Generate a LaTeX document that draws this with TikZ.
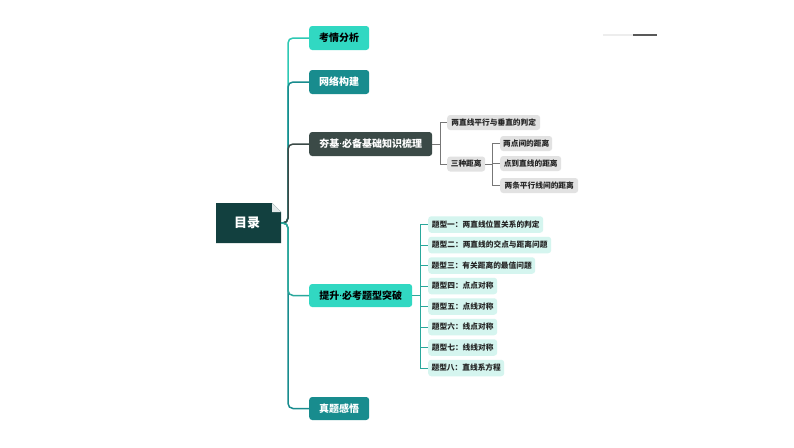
\documentclass[tikz,border=0pt]{standalone}
\usepackage{fontspec}
\newfontfamily\cjk{Noto Sans CJK SC}
\newfontfamily\latn{Noto Sans}
\newcommand{\mdot}{{\latn\bfseries\textperiodcentered}}
\usetikzlibrary{positioning}
\definecolor{turq}{HTML}{31D8C2}
\definecolor{tealc}{HTML}{188C8E}
\definecolor{darkc}{HTML}{3B4A47}
\definecolor{rootc}{HTML}{12403F}
\definecolor{grayleaf}{HTML}{E2E2E2}
\definecolor{cyanleaf}{HTML}{D5F5EF}
\definecolor{turqline}{HTML}{2EC9B4}
\definecolor{cyanline}{HTML}{2AA89C}
\definecolor{grayline}{HTML}{777777}
\tikzset{
  lvone/.style={rounded corners=3pt, anchor=west, minimum height=24pt, inner sep=0pt, font=\cjk\bfseries\fontsize{10}{12}\selectfont},
  lvturq/.style={lvone, fill=turq, text=black},
  lvteal/.style={lvone, fill=tealc, text=white},
  lvdark/.style={lvone, fill=darkc, text=white},
  leafbase/.style={rounded corners=3pt, anchor=west, inner sep=0pt, font=\cjk\bfseries\fontsize{7.7}{9}\selectfont, text=black!85},
  grayleafbox/.style={leafbase, fill=grayleaf, minimum height=15pt},
  cyanleafbox/.style={leafbase, fill=cyanleaf, minimum height=16.5pt},
  branch/.style={line width=1.5pt, rounded corners=5pt},
  subbranch/.style={line width=1pt},
}
\begin{document}
\begin{tikzpicture}[x=1pt,y=-1pt]
\useasboundingbox[fill=white] (0,0) rectangle (794,447);
% decoration top right
\draw[line width=2pt, black!7] (603,35) -- (633,35);
\draw[line width=2pt, black!65] (633,35) -- (657,35);

% root
\fill[rootc] (216,203) -- (272,203) -- (281,212) -- (281,243) -- (216,243) -- cycle;
\fill[white!88!rootc] (272,203) -- (272,212) -- (281,212) -- cycle;
\node[font=\cjk\bfseries\fontsize{13}{15}\selectfont, text=white, inner sep=0pt] (root) at (247,223) {目录};
\coordinate (rootE) at (281,223);

% level one nodes
\node[lvturq, minimum width=60pt] (n1) at (309,38) {考情分析};
\node[lvteal, minimum width=60pt] (n2) at (309,82) {网络构建};
\node[lvdark, minimum width=123pt] (n3) at (309,144) {夯基\mdot 必备基础知识梳理};
\node[lvturq, minimum width=103pt, minimum height=23pt] (n4) at (309,295.5) {提升\mdot 必考题型突破};
\node[lvteal, minimum width=60pt, minimum height=23pt] (n5) at (309,408.5) {真题感悟};

% trunk branches
\draw[branch, turqline] (rootE) -- ++(7,0) |- (n1.west);
\draw[branch, tealc] (rootE) -- ++(7,0) |- (n2.west);
\draw[branch, darkc] (rootE) -- ++(7,0) |- (n3.west);
\draw[branch, tealc] (rootE) -- ++(7,0) |- (n5.west);
\draw[branch, cyanline] (rootE) -- ++(7,0) |- (n4.west);

% 夯基 children
\node[grayleafbox, minimum width=93pt] (g1) at (447,122.5) {两直线平行与垂直的判定};
\node[grayleafbox, minimum width=38pt] (g2) at (447,164) {三种距离};
\node[grayleafbox, minimum width=52pt] (g3) at (500,143.5) {两点间的距离};
\node[grayleafbox, minimum width=61pt] (g4) at (500,163.5) {点到直线的距离};
\node[grayleafbox, minimum width=78pt] (g5) at (500,185.5) {两条平行线间的距离};

\draw[subbranch, grayline] (n3.east) -- ++(8,0) coordinate (b1);
\draw[subbranch, grayline] (b1) |- (g1.west);
\draw[subbranch, grayline] (b1) |- (g2.west);
\draw[subbranch, grayline] (g2.east) -- ++(7,0) coordinate (b2);
\draw[subbranch, grayline] (b2) |- (g3.west);
\draw[subbranch, grayline] (b2) |- (g4.west);
\draw[subbranch, grayline] (b2) |- (g5.west);

% 提升 children
\node[cyanleafbox, minimum width=115pt] (c1) at (428,224.5) {题型一：两直线位置关系的判定};
\node[cyanleafbox, minimum width=123pt] (c2) at (428,245) {题型二：两直线的交点与距离问题};
\node[cyanleafbox, minimum width=107pt] (c3) at (428,265.5) {题型三：有关距离的最值问题};
\node[cyanleafbox, minimum width=69pt] (c4) at (428,286) {题型四：点点对称};
\node[cyanleafbox, minimum width=69pt] (c5) at (428,306.5) {题型五：点线对称};
\node[cyanleafbox, minimum width=69pt] (c6) at (428,327) {题型六：线点对称};
\node[cyanleafbox, minimum width=69pt] (c7) at (428,347.5) {题型七：线线对称};
\node[cyanleafbox, minimum width=76pt] (c8) at (428,368) {题型八：直线系方程};

\draw[subbranch, cyanline] (n4.east) -- (420,295.5) coordinate (b3);
\foreach \c in {c1,c2,c3,c4,c5,c6,c7,c8}{
  \draw[subbranch, cyanline] (b3) |- (\c.west);
}
\end{tikzpicture}
\end{document}
